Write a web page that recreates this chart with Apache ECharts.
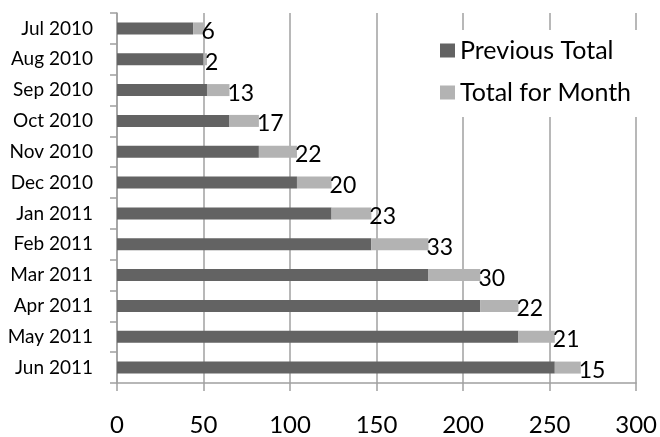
<!DOCTYPE html>
<html><head><meta charset="utf-8">
<script src="https://cdn.jsdelivr.net/npm/echarts@6/dist/echarts.min.js"></script>
<style>html,body{margin:0;padding:0;background:#fff}#c{width:660px;height:437px}</style>
</head><body><div id="c"></div>
<script>
var categories = ['Jul 2010','Aug 2010','Sep 2010','Oct 2010','Nov 2010','Dec 2010','Jan 2011','Feb 2011','Mar 2011','Apr 2011','May 2011','Jun 2011'];
var previousTotal = [44, 50, 52, 65, 82, 104, 124, 147, 180, 210, 232, 253];
var totalForMonth = [6, 2, 13, 17, 22, 20, 23, 33, 30, 22, 21, 15];
var xTicks = [0, 50, 100, 150, 200, 250, 300];

var FONT = 'Lato';
var chart = echarts.init(document.getElementById('c'));
chart.setOption({
  animation: false,
  textStyle: {fontFamily: FONT},
  grid: {left: 117, right: 23, top: 13, bottom: 53, containLabel: false},
  legend: {
    orient: 'vertical', left: 430, top: 30,
    padding: [8, 20, 12, 10], itemGap: 17,
    backgroundColor: '#fff', icon: 'rect', itemWidth: 15, itemHeight: 14,
    textStyle: {fontFamily: FONT, fontSize: 25, color: '#000'},
    data: ['Previous Total', 'Total for Month']
  },
  xAxis: {
    type: 'value', min: xTicks[0], max: xTicks[xTicks.length-1], interval: 50,
    axisLine: {show: true, lineStyle: {color: '#a0a0a0', width: 1.5}},
    axisTick: {show: true, length: 8, lineStyle: {color: '#a0a0a0', width: 1.5}},
    splitLine: {show: true, lineStyle: {color: '#a0a0a0', width: 1.5}},
    axisLabel: {fontFamily: FONT, fontSize: 24, color: '#000', margin: 30}
  },
  yAxis: {
    type: 'category', inverse: true, data: categories,
    axisLine: {show: true, lineStyle: {color: '#a0a0a0', width: 1.5}},
    axisTick: {show: true, length: 7, lineStyle: {color: '#a0a0a0', width: 1.5}},
    axisLabel: {fontFamily: FONT, fontSize: 19, color: '#000', margin: 24}
  },
  series: [
    {name: 'Previous Total', type: 'bar', stack: 't', barWidth: 12, data: previousTotal,
     itemStyle: {color: '#636363'}},
    {name: 'Total for Month', type: 'bar', stack: 't', barWidth: 12, data: totalForMonth,
     itemStyle: {color: '#b3b3b3'},
     label: {show: true, position: 'right', distance: -2, offset: [0, 3],
             fontFamily: FONT, fontSize: 23, color: '#000'}}
  ]
});
</script></body></html>
